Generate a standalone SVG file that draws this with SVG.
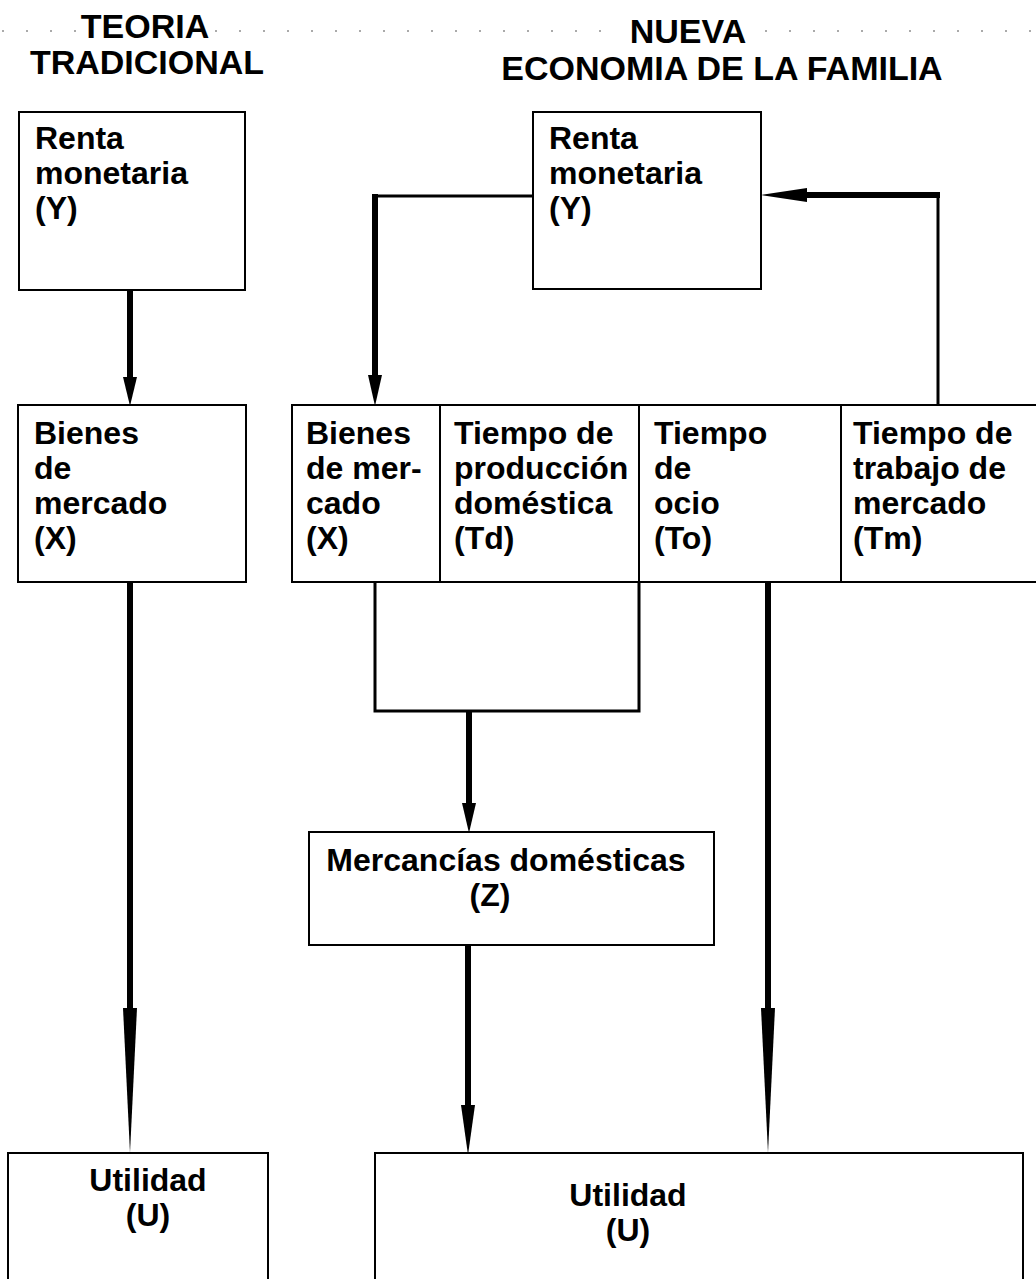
<svg xmlns="http://www.w3.org/2000/svg" width="1036" height="1279" viewBox="0 0 1036 1279">
<style>
.box{fill:#fff;stroke:#000;stroke-width:2}
.t{font-family:"Liberation Sans",Arial,sans-serif;font-weight:bold;font-size:32px;fill:#000}
.title{font-family:"Liberation Sans",Arial,sans-serif;font-weight:bold;font-size:34px;fill:#000}
.thin{fill:none;stroke:#000;stroke-width:3}
.stem{fill:none;stroke:#000;stroke-width:6}
.head{fill:#000}
.dots{stroke:#aaa;stroke-width:2;stroke-dasharray:2 22}
</style>
<rect width="1036" height="1279" fill="#fff"/>
<g id="guides">
<line class="dots" x1="2" y1="31" x2="80" y2="31"/>
<line class="dots" x1="215" y1="31" x2="610" y2="31"/>
<line class="dots" x1="765" y1="31" x2="1036" y2="31"/>
</g>
<g id="titles">
<text class="title" x="145" y="38" text-anchor="middle">TEORIA</text>
<text class="title" x="147" y="74" text-anchor="middle">TRADICIONAL</text>
<text class="title" x="688" y="43" text-anchor="middle">NUEVA</text>
<text class="title" x="722" y="80" text-anchor="middle">ECONOMIA DE LA FAMILIA</text>
</g>
<g id="connectors">
<line class="stem" x1="130" y1="290" x2="130" y2="380"/>
<polygon class="head" points="123,377 137,377 130,406"/>
<line class="stem" x1="130" y1="582" x2="130" y2="1010"/>
<polygon class="head" points="123,1008 137,1008 130,1153"/>
<polyline class="thin" points="533,196 375,196"/>
<line class="stem" x1="375" y1="194" x2="375" y2="378"/>
<polygon class="head" points="368,375 382,375 375,406"/>
<line class="thin" x1="938" y1="405" x2="938" y2="195"/>
<line class="stem" x1="940" y1="195" x2="805" y2="195"/>
<polygon class="head" points="807,188 807,202 761,195"/>
<polyline class="thin" points="375,582 375,711 639,711 639,582"/>
<line class="stem" x1="469" y1="711" x2="469" y2="806"/>
<polygon class="head" points="462,803 476,803 469,833"/>
<line class="stem" x1="468" y1="945" x2="468" y2="1108"/>
<polygon class="head" points="461,1105 475,1105 468,1155"/>
<line class="stem" x1="768" y1="582" x2="768" y2="1010"/>
<polygon class="head" points="761,1008 775,1008 768,1153"/>
</g>
<g id="left-renta">
<rect class="box" x="19" y="112" width="226" height="178"/>
<text class="t" x="35" y="149">Renta</text>
<text class="t" x="35" y="184">monetaria</text>
<text class="t" x="35" y="219">(Y)</text>
</g>
<g id="left-bienes">
<rect class="box" x="18" y="405" width="228" height="177"/>
<text class="t" x="34" y="444">Bienes</text>
<text class="t" x="34" y="479">de</text>
<text class="t" x="34" y="514">mercado</text>
<text class="t" x="34" y="549">(X)</text>
</g>
<g id="left-utilidad">
<rect class="box" x="8" y="1153" width="260" height="140"/>
<text class="t" x="148" y="1191" text-anchor="middle">Utilidad</text>
<text class="t" x="148" y="1226" text-anchor="middle">(U)</text>
</g>
<g id="right-renta">
<rect class="box" x="533" y="112" width="228" height="177"/>
<text class="t" x="549" y="149">Renta</text>
<text class="t" x="549" y="184">monetaria</text>
<text class="t" x="549" y="219">(Y)</text>
</g>
<g id="bienes-x">
<rect class="box" x="292" y="405" width="148" height="177"/>
<text class="t" x="306" y="444">Bienes</text>
<text class="t" x="306" y="479">de mer-</text>
<text class="t" x="306" y="514">cado</text>
<text class="t" x="306" y="549">(X)</text>
</g>
<g id="tiempo-td">
<rect class="box" x="440" y="405" width="199" height="177"/>
<text class="t" x="454" y="444">Tiempo de</text>
<text class="t" x="454" y="479">producción</text>
<text class="t" x="454" y="514">doméstica</text>
<text class="t" x="454" y="549">(Td)</text>
</g>
<g id="tiempo-to">
<rect class="box" x="639" y="405" width="202" height="177"/>
<text class="t" x="654" y="444">Tiempo</text>
<text class="t" x="654" y="479">de</text>
<text class="t" x="654" y="514">ocio</text>
<text class="t" x="654" y="549">(To)</text>
</g>
<g id="tiempo-tm">
<rect class="box" x="841" y="405" width="205" height="177"/>
<text class="t" x="853" y="444">Tiempo de</text>
<text class="t" x="853" y="479">trabajo de</text>
<text class="t" x="853" y="514">mercado</text>
<text class="t" x="853" y="549">(Tm)</text>
</g>
<g id="mercancias-z">
<rect class="box" x="309" y="832" width="405" height="113"/>
<text class="t" x="506" y="871" text-anchor="middle">Mercancías domésticas</text>
<text class="t" x="490" y="906" text-anchor="middle">(Z)</text>
</g>
<g id="right-utilidad">
<rect class="box" x="375" y="1153" width="648" height="140"/>
<text class="t" x="628" y="1206" text-anchor="middle">Utilidad</text>
<text class="t" x="628" y="1241" text-anchor="middle">(U)</text>
</g>
</svg>
